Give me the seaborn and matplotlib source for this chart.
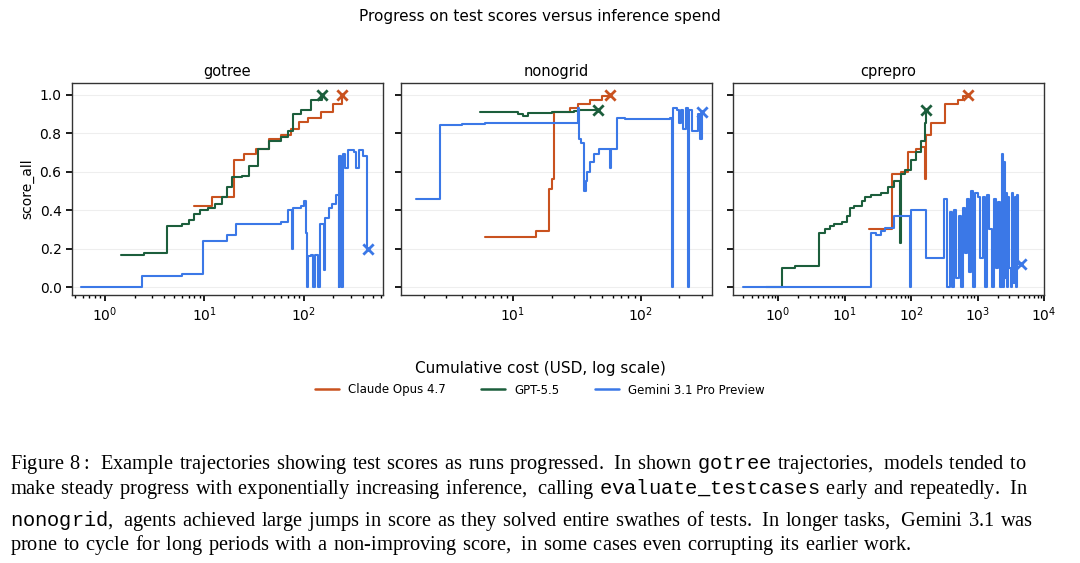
import numpy as np
import pandas as pd
import matplotlib.pyplot as plt
import seaborn as sns

# ---- data (cost in USD, score_all) ----
gotree_claude_x = [8, 12, 20, 25, 33, 45, 60, 75, 90, 110, 150, 200, 245]
gotree_claude_y = [0.42, 0.47, 0.66, 0.69, 0.72, 0.77, 0.79, 0.82, 0.86, 0.88, 0.91, 0.95, 1.0]
gotree_gpt_x = [1.45, 2.5, 4.2, 6, 7, 8, 9, 11, 13, 15, 17, 19, 24, 28, 35, 45, 60, 70, 78, 95, 120, 155]
gotree_gpt_y = [0.17, 0.18, 0.32, 0.33, 0.35, 0.38, 0.40, 0.41, 0.43, 0.47, 0.52, 0.57, 0.58, 0.63, 0.72,
                0.76, 0.78, 0.81, 0.90, 0.92, 0.97, 1.0]
gotree_gem_x = [0.58, 2.4, 6, 9.8, 17, 21, 45, 60, 70, 77, 78, 80, 95, 100, 105, 108, 112, 120, 125, 130,
                140, 145, 160, 165, 180, 195, 210, 225, 230, 240, 250, 260, 280, 320, 340, 360, 400, 440, 450]
gotree_gem_y = [0.0, 0.06, 0.07, 0.24, 0.27, 0.33, 0.33, 0.34, 0.40, 0.20, 0.41, 0.41, 0.42, 0.45, 0.28,
                0.0, 0.16, 0.17, 0.0, 0.17, 0.0, 0.33, 0.09, 0.36, 0.41, 0.43, 0.48, 0.0, 0.68, 0.0, 0.69,
                0.62, 0.71, 0.70, 0.62, 0.71, 0.68, 0.20, 0.20]

nono_claude_x = [6, 15, 19, 20, 21, 28, 32, 40, 50, 57]
nono_claude_y = [0.26, 0.29, 0.51, 0.56, 0.91, 0.93, 0.95, 0.97, 0.99, 1.0]
nono_gpt_x = [5.5, 11, 12, 13, 20, 30, 33, 46]
nono_gpt_y = [0.91, 0.90, 0.89, 0.905, 0.91, 0.915, 0.92, 0.92]
nono_gem_x = [1.75, 2.7, 4, 6, 30, 32, 33, 34, 36, 37, 38, 40, 43, 47, 55, 57, 58, 65, 75, 170, 175, 177,
              190, 200, 205, 215, 225, 235, 240, 250, 280, 290, 300]
nono_gem_y = [0.46, 0.84, 0.845, 0.85, 0.85, 0.93, 0.77, 0.75, 0.50, 0.55, 0.60, 0.65, 0.69, 0.72, 0.72,
              0.62, 0.72, 0.88, 0.875, 0.88, 0.0, 0.93, 0.92, 0.85, 0.92, 0.82, 0.93, 0.0, 0.92, 0.81,
              0.90, 0.77, 0.91]

cp_claude_x = [23, 52, 70, 90, 120, 140, 165, 170, 200, 320, 500, 600, 720]
cp_claude_y = [0.30, 0.59, 0.60, 0.70, 0.72, 0.73, 0.56, 0.79, 0.85, 0.95, 0.97, 0.99, 1.0]
cp_gpt_x = [0.65, 1.15, 1.8, 4.2, 5, 6, 7, 9, 11, 12, 14, 18, 20, 25, 35, 45, 55, 69, 70, 80, 100, 120,
            140, 165, 170]
cp_gpt_y = [0.0, 0.10, 0.11, 0.28, 0.30, 0.32, 0.33, 0.34, 0.37, 0.41, 0.42, 0.45, 0.47, 0.48, 0.49,
            0.52, 0.55, 0.23, 0.59, 0.61, 0.66, 0.70, 0.76, 0.85, 0.92]
cp_gem_x = [0.3, 25, 30, 35, 40, 55, 90, 95, 100, 150, 170, 250, 310, 350, 380, 420, 450, 480, 520, 560,
            600, 650, 700, 750, 800, 860, 920, 1000, 1100, 1200, 1300, 1400, 1500, 1650, 1800, 1900, 2000,
            2150, 2300, 2400, 2500, 2600, 2700, 2800, 2900, 3000, 3150, 3300, 3450, 3600, 3750, 3900, 4100,
            4300, 4500]
cp_gem_y = [0.0, 0.28, 0.27, 0.29, 0.31, 0.37, 0.37, 0.0, 0.40, 0.40, 0.15, 0.15, 0.46, 0.0, 0.39, 0.0,
            0.40, 0.05, 0.37, 0.0, 0.41, 0.18, 0.46, 0.08, 0.50, 0.0, 0.49, 0.47, 0.15, 0.47, 0.0, 0.48,
            0.30, 0.0, 0.46, 0.10, 0.44, 0.0, 0.69, 0.0, 0.65, 0.05, 0.49, 0.0, 0.47, 0.10, 0.0, 0.49,
            0.02, 0.47, 0.0, 0.48, 0.12, 0.12, 0.12]

panels = ["gotree", "nonogrid", "cprepro"]
models = ["Claude Opus 4.7", "GPT-5.5", "Gemini 3.1 Pro Preview"]
series = {
    "gotree": [(gotree_claude_x, gotree_claude_y), (gotree_gpt_x, gotree_gpt_y), (gotree_gem_x, gotree_gem_y)],
    "nonogrid": [(nono_claude_x, nono_claude_y), (nono_gpt_x, nono_gpt_y), (nono_gem_x, nono_gem_y)],
    "cprepro": [(cp_claude_x, cp_claude_y), (cp_gpt_x, cp_gpt_y), (cp_gem_x, cp_gem_y)],
}
xlims = {"gotree": (0.47, 630), "nonogrid": (1.33, 360), "cprepro": (0.21, 10000)}
colors = ["#c9521f", "#1c5e3c", "#3b78e7"]

sns.set_theme(style="whitegrid")
plt.rcParams["font.family"] = ["DejaVu Sans"]
plt.rcParams["text.color"] = "black"
plt.rcParams["xtick.color"] = "black"
plt.rcParams["ytick.color"] = "black"
plt.rcParams["axes.labelcolor"] = "black"
plt.rcParams["mathtext.fontset"] = "custom"
plt.rcParams["mathtext.rm"] = "Liberation Serif"
plt.rcParams["mathtext.tt"] = "Liberation Mono"

fig = plt.figure(figsize=(10.8, 5.63), dpi=100)
lefts = [72 / 1080, 401 / 1080, 733 / 1080]
w = 311 / 1080
bottom = 1 - 295 / 563
h = 212 / 563
for i, name in enumerate(panels):
    ax = fig.add_axes([lefts[i], bottom, w, h])
    for j, (x, y) in enumerate(series[name]):
        df = pd.DataFrame({"cost": x, "score": y})
        sns.lineplot(data=df, x="cost", y="score", ax=ax, color=colors[j], lw=1.5,
                     drawstyle="steps-post", legend=False, estimator=None, sort=False)
        ax.scatter(x[-1], y[-1], marker="x", s=55, color=colors[j], linewidths=2, zorder=5)
    ax.set_xscale("log")
    ax.set_xlim(*xlims[name])
    ax.set_ylim(-0.04, 1.06)
    ax.set_yticks([0.0, 0.2, 0.4, 0.6, 0.8, 1.0])
    ax.grid(axis="x", visible=False)
    ax.grid(axis="y", color="#eeeeee", lw=0.8)
    ax.set_title(name, fontsize=10.5, pad=5)
    ax.set_xlabel("")
    ax.set_ylabel("score_all" if i == 0 else "", fontsize=10)
    ax.tick_params(axis="both", which="major", bottom=True, left=True, length=4, labelsize=10)
    ax.tick_params(axis="x", which="minor", bottom=True, length=2)
    if i > 0:
        ax.set_yticklabels([])
    for sp in ax.spines.values():
        sp.set_color("#333333")
        sp.set_linewidth(1.0)

fig.text(0.5, 1 - 17 / 563, "Progress on test scores versus inference spend", ha="center", va="center", fontsize=11)
fig.text(0.5, 1 - 368 / 563, "Cumulative cost (USD, log scale)", ha="center", va="center", fontsize=11)
handles = [plt.Line2D([], [], color=c, lw=1.8) for c in colors]
fig.legend(handles, models, loc="center", bbox_to_anchor=(0.5, 1 - 390 / 563), ncol=3, frameon=False,
           fontsize=8.5, handlelength=2.0, columnspacing=3.0)

caption = [
    r"$\mathrm{Figure\ 8:\ Example\ trajectories\ showing\ test\ scores\ as\ runs\ progressed.\ In\ shown\ }\mathtt{gotree}\mathrm{\ trajectories,\ models\ tended\ to}$",
    r"$\mathrm{make\ steady\ progress\ with\ exponentially\ increasing\ inference,\ calling\ }\mathtt{evaluate\_testcases}\mathrm{\ early\ and\ repeatedly.\ In}$",
    r"$\mathtt{nonogrid}\mathrm{,\ agents\ achieved\ large\ jumps\ in\ score\ as\ they\ solved\ entire\ swathes\ of\ tests.\ In\ longer\ tasks,\ Gemini\ 3.1\ was}$",
    r"$\mathrm{prone\ to\ cycle\ for\ long\ periods\ with\ a\ non\text{-}improving\ score,\ in\ some\ cases\ even\ corrupting\ its\ earlier\ work.}$",
]
for k, yy in enumerate([465, 489, 521, 545]):
    fig.text(10 / 1080, 1 - yy / 563, caption[k], ha="left", va="center", fontsize=14.7)

fig.savefig("out.png", dpi=100)
